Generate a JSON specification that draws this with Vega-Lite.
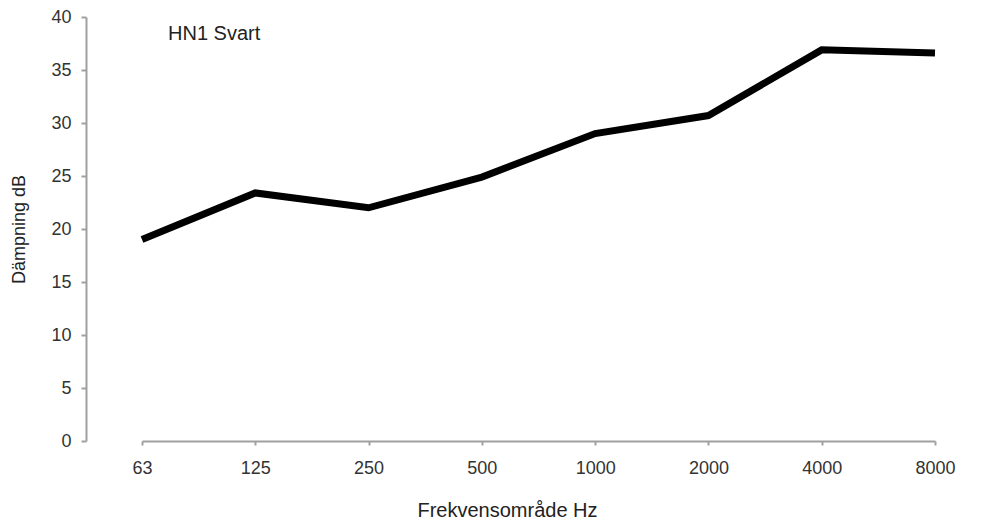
{
  "$schema": "https://vega.github.io/schema/vega-lite/v6.json",
  "autosize": "none",
  "width": 896,
  "height": 424,
  "padding": {"left": 86, "top": 17, "right": 0, "bottom": 81},
  "background": "white",
  "config": {
    "view": {"stroke": null},
    "font": "Liberation Sans",
    "axis": {"labelFont": "Liberation Sans", "titleFont": "Liberation Sans", "labelColor": "#333333", "titleColor": "#222222", "domainColor": "#a0a0a0", "tickColor": "#a0a0a0", "domainWidth": 2, "tickWidth": 2, "grid": false, "labelFontSize": 18, "titleFontSize": 19, "titleFontWeight": "normal"}
  },
  "title": {"text": "HN1 Svart", "anchor": "start", "frame": "group", "orient": "top", "dx": 82, "dy": 50, "fontSize": 20, "fontWeight": "normal", "font": "Liberation Sans", "color": "#222222", "baseline": "middle"},
  "data": {"values": [
    {"freq": "63", "db": 19.0},
    {"freq": "125", "db": 23.4},
    {"freq": "250", "db": 22.0},
    {"freq": "500", "db": 24.9},
    {"freq": "1000", "db": 29.0},
    {"freq": "2000", "db": 30.7},
    {"freq": "4000", "db": 36.9},
    {"freq": "8000", "db": 36.6}
  ]},
  "mark": {"type": "line", "color": "#000000", "strokeWidth": 7, "strokeJoin": "miter", "strokeCap": "butt"},
  "encoding": {
    "x": {"field": "freq", "type": "ordinal", "sort": null,
      "scale": {"type": "point", "range": [56, 849], "padding": 0},
      "axis": {"title": "Frekvensområde Hz", "labelAngle": 0, "tickSize": 4, "labelPadding": 14, "titleX": 421, "titleY": 75, "titleAlign": "center", "titleBaseline": "alphabetic", "titleFontSize": 20}},
    "y": {"field": "db", "type": "quantitative",
      "scale": {"domain": [0, 40], "nice": false},
      "axis": {"title": "Dämpning dB", "values": [0,5,10,15,20,25,30,35,40], "tickSize": 5, "labelPadding": 10, "titleX": -67, "titleY": 212, "titleAlign": "center", "titleBaseline": "middle", "titleFontSize": 18}}
  }
}
